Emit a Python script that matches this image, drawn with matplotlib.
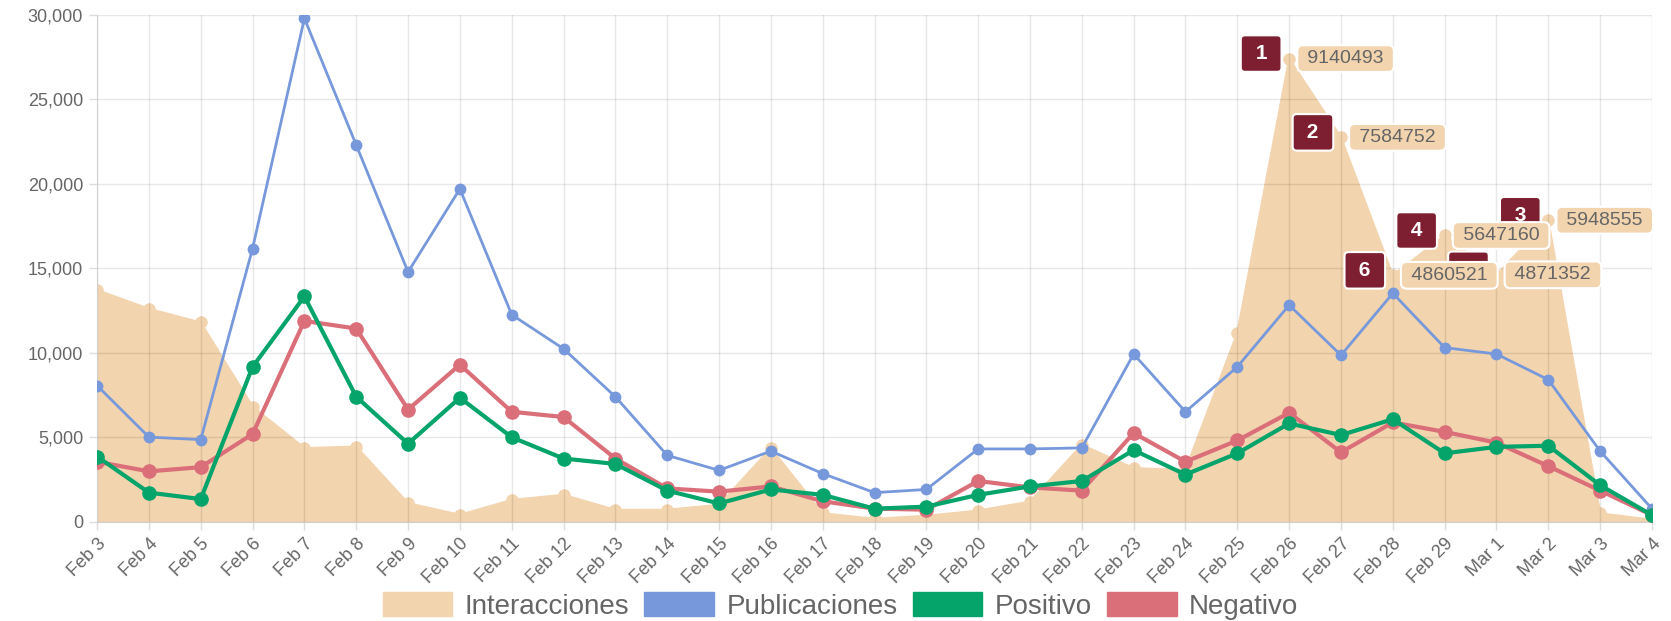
import matplotlib
matplotlib.use("Agg")
import matplotlib.pyplot as plt
from matplotlib.patches import Patch
from matplotlib.ticker import FuncFormatter

plt.rcParams['font.family'] = ['Liberation Sans', 'DejaVu Sans']

# datos
fechas = ['Feb 3', 'Feb 4', 'Feb 5', 'Feb 6', 'Feb 7', 'Feb 8', 'Feb 9', 'Feb 10',
          'Feb 11', 'Feb 12', 'Feb 13', 'Feb 14', 'Feb 15', 'Feb 16', 'Feb 17',
          'Feb 18', 'Feb 19', 'Feb 20', 'Feb 21', 'Feb 22', 'Feb 23', 'Feb 24',
          'Feb 25', 'Feb 26', 'Feb 27', 'Feb 28', 'Feb 29', 'Mar 1', 'Mar 2',
          'Mar 3', 'Mar 4']

publicaciones = [8050, 5000, 4850, 16170, 29800, 22300, 14780, 19700, 12250, 10230,
                 7390, 3920, 3030, 4170, 2840, 1710, 1900, 4300, 4300, 4360, 9920,
                 6500, 9160, 12820, 9850, 13520, 10300, 9920, 8400, 4170, 760]

positivo = [3850, 1710, 1330, 9160, 13330, 7390, 4610, 7330, 4990, 3730, 3410, 1830,
            1070, 1900, 1580, 760, 880, 1580, 2080, 2400, 4230, 2780, 4040, 5810,
            5120, 6060, 4040, 4420, 4490, 2150, 380]

negativo = [3540, 2970, 3220, 5180, 11880, 11430, 6630, 9290, 6500, 6190, 3730, 1960,
            1770, 2080, 1200, 760, 700, 2400, 2020, 1830, 5240, 3540, 4800, 6440,
            4100, 5870, 5310, 4670, 3280, 1830, 380]

interacciones = [4570000, 4200000, 3930000, 2270000, 1450000, 1480000, 363000, 133000,
                 427000, 527000, 230000, 232000, 330000, 1447000, 163000, 53000,
                 113000, 217000, 393000, 1513000, 1053000, 1020000, 3723000,
                 9140493, 7584752, 4860521, 5647160, 4871352, 5948555, 163000, 33000]

c_inter = '#f2d4ae'
c_pub = '#7799db'
c_pos = '#04a46b'
c_neg = '#da6f7a'
gris = '#666666'

x = list(range(len(fechas)))

fig = plt.figure(figsize=(16.71, 6.21), dpi=100)
ax = fig.add_axes([0.0581, 0.1602, 0.9305, 0.8156])
ax2 = ax.twinx()
ax.set_zorder(ax2.get_zorder() + 1)
ax.patch.set_visible(False)

# area de interacciones (eje secundario oculto)
ax2.fill_between(x, interacciones, color=c_inter, lw=0)
ax2.plot(x, interacciones, color=c_inter, lw=1.5, marker='o', ms=8)
ax2.set_ylim(0, 10000000)
ax2.axis('off')

ax.plot(x, publicaciones, color=c_pub, lw=2, marker='o', ms=7.5, zorder=3)
ax.plot(x, negativo, color=c_neg, lw=3, marker='o', ms=9.5, zorder=4)
ax.plot(x, positivo, color=c_pos, lw=3, marker='o', ms=9.5, zorder=5)

ax.set_xlim(0, len(fechas) - 1)
ax.set_ylim(0, 30000)
ax.set_yticks(range(0, 30001, 5000))
ax.yaxis.set_major_formatter(FuncFormatter(lambda v, p: f"{int(v):,}"))
ax.set_xticks(x)
ax.set_xticklabels(fechas, rotation=45, ha='right', rotation_mode='anchor')
ax.tick_params(axis='both', colors='#dddddd', labelcolor=gris, labelsize=13,
               length=6, width=1)
ax.tick_params(axis='y', pad=4)
ax.tick_params(axis='x', pad=4)
ax.grid(True, color='black', alpha=0.09, lw=1)
for s in ['top', 'right']:
    ax.spines[s].set_visible(False)
for s in ['left', 'bottom']:
    ax.spines[s].set_color('#d0d0d0')

# top 6 de interacciones
orden = sorted(range(len(interacciones)), key=lambda i: -interacciones[i])[:6]
for rank, i in enumerate(orden, start=1):
    ax.annotate(f" {rank} ", xy=(i, interacciones[i]), xycoords=ax2.transData,
                xytext=(-28, 5), textcoords='offset pixels', ha='center', va='center',
                color='white', fontsize=15, fontweight='bold', zorder=10,
                bbox=dict(boxstyle='round,pad=0.42,rounding_size=0.2', fc='#7d1f31',
                          ec='white', lw=1.5))
for rank, i in enumerate(orden, start=1):
    ax.annotate(f" {interacciones[i]} ", xy=(i, interacciones[i]), xycoords=ax2.transData,
                xytext=(13, 0), textcoords='offset pixels', ha='left', va='center',
                color=gris, fontsize=14, zorder=11,
                bbox=dict(boxstyle='round,pad=0.25,rounding_size=0.3', fc=c_inter,
                          ec='white', lw=1.5))

handles = [Patch(fc=c_inter, ec=c_inter), Patch(fc=c_pub, ec=c_pub),
           Patch(fc=c_pos, ec=c_pos), Patch(fc=c_neg, ec=c_neg)]
fig.legend(handles, ['Interacciones', 'Publicaciones', 'Positivo', 'Negativo'],
           loc='center', bbox_to_anchor=(0.503, 0.024), ncol=4, frameon=False,
           fontsize=20, labelcolor=gris, handlelength=2.5, handleheight=0.95,
           handletextpad=0.45, columnspacing=0.55)

fig.savefig('out.png', dpi=100)
